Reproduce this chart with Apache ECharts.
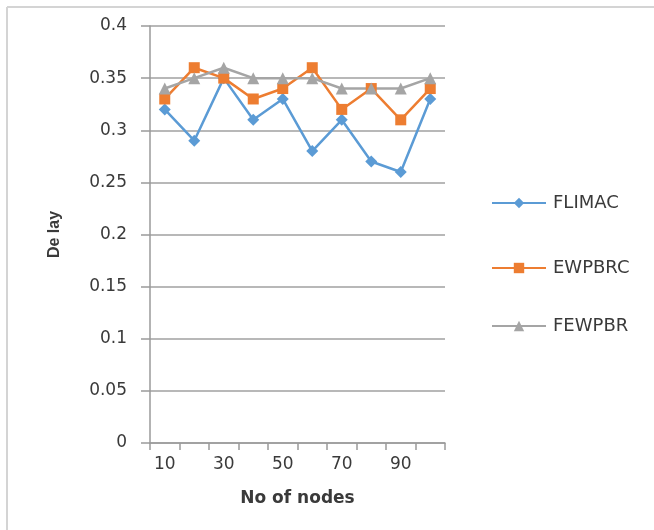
<!DOCTYPE html>
<html>
<head>
<meta charset="utf-8">
<script src="https://cdn.jsdelivr.net/npm/echarts@6/dist/echarts.min.js"></script>
<style>
html,body{margin:0;padding:0;background:#fff;overflow:hidden;}
#chart{width:654px;height:530px;}
</style>
</head>
<body>
<div id="chart"></div>
<script>
var categories = ['10','20','30','40','50','60','70','80','90','100'];
var flimac = [0.32, 0.29, 0.35, 0.31, 0.33, 0.28, 0.31, 0.27, 0.26, 0.33];
var ewpbrc = [0.33, 0.36, 0.35, 0.33, 0.34, 0.36, 0.32, 0.34, 0.31, 0.34];
var fewpbr = [0.34, 0.35, 0.36, 0.35, 0.35, 0.35, 0.34, 0.34, 0.34, 0.35];
var seriesNames = ['FLIMAC', 'EWPBRC', 'FEWPBR'];
var xTitle = 'No of nodes';
var yTitle = 'De lay';

var textColor = '#3a3a3a';
var font = 'DejaVu Sans';

function legendAt(name, top) {
  return {
    data: [name], left: 486, top: top, orient: 'vertical',
    itemWidth: 54, itemHeight: 13, itemGap: 0,
    textStyle: { color: textColor, fontFamily: font, fontSize: 18, padding: [0,0,0,2] }
  };
}

var chart = echarts.init(document.getElementById('chart'), null, { renderer: 'canvas' });
chart.setOption({
  animation: false,
  backgroundColor: '#fff',
  graphic: [
    { type: 'line', shape: { x1: 7, y1: 7, x2: 654, y2: 7 }, style: { stroke: '#d4d4d4', lineWidth: 2 }, silent: true },
    { type: 'line', shape: { x1: 7, y1: 7, x2: 7, y2: 530 }, style: { stroke: '#d4d4d4', lineWidth: 2 }, silent: true }
  ],
  grid: { left: 150, top: 26, right: 209, bottom: 87, containLabel: false },
  legend: [legendAt(seriesNames[0], 189), legendAt(seriesNames[1], 254), legendAt(seriesNames[2], 312)],
  xAxis: {
    type: 'category', data: categories, boundaryGap: true,
    name: xTitle, nameLocation: 'middle', nameGap: 47,
    nameTextStyle: { color: textColor, fontFamily: font, fontSize: 17, fontWeight: 'bold' },
    axisLine: { lineStyle: { color: '#9a9a9a', width: 1.5 } },
    axisTick: { show: true, interval: 0, length: 7, lineStyle: { color: '#9a9a9a', width: 1.5 } },
    axisLabel: { interval: 1, margin: 13, color: textColor, fontFamily: font, fontSize: 17 },
    splitLine: { show: false }
  },
  yAxis: {
    type: 'value', min: 0, max: 0.4, interval: 0.05,
    name: yTitle, nameLocation: 'middle', nameGap: 87, nameRotate: 90,
    nameTextStyle: { color: textColor, fontFamily: 'Liberation Sans', fontSize: 16, fontWeight: 'bold' },
    axisLine: { show: true, lineStyle: { color: '#9a9a9a', width: 1.5 } },
    axisTick: { show: true, length: 9, lineStyle: { color: '#9a9a9a', width: 1.5 } },
    axisLabel: { margin: 23, color: textColor, fontFamily: font, fontSize: 17,
      formatter: function (v) { return String(Math.round(v * 100) / 100); } },
    splitLine: { show: true, lineStyle: { color: '#a0a0a0', width: 1.5 } }
  },
  series: [
    { name: seriesNames[0], type: 'line', data: flimac, symbol: 'diamond', symbolSize: 12,
      itemStyle: { color: '#5B9BD5' }, lineStyle: { color: '#5B9BD5', width: 2.5 } },
    { name: seriesNames[1], type: 'line', data: ewpbrc, symbol: 'rect', symbolSize: 11,
      itemStyle: { color: '#ED7D31' }, lineStyle: { color: '#ED7D31', width: 2.5 } },
    { name: seriesNames[2], type: 'line', data: fewpbr, symbol: 'triangle', symbolSize: 12,
      itemStyle: { color: '#A5A5A5' }, lineStyle: { color: '#A5A5A5', width: 2.5 } }
  ]
});
</script>
</body>
</html>
